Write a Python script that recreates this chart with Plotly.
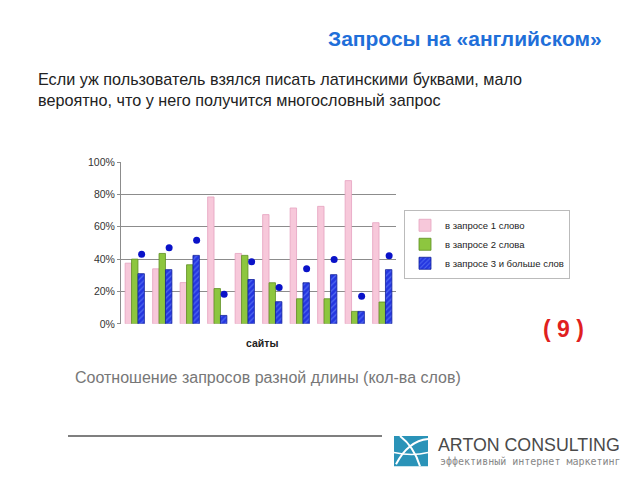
import plotly.graph_objects as go

sites = list(range(10))
one_word = [0.375, 0.34, 0.255, 0.784, 0.435, 0.675, 0.716, 0.726, 0.885, 0.625]
two_words = [0.40, 0.435, 0.365, 0.218, 0.423, 0.254, 0.155, 0.155, 0.077, 0.135]
three_plus = [0.31, 0.335, 0.423, 0.052, 0.274, 0.137, 0.254, 0.304, 0.077, 0.335]
dots = [0.43, 0.47, 0.516, 0.183, 0.383, 0.224, 0.34, 0.397, 0.171, 0.421]
dot_offset = 0.25

legend_names = ["в запросе 1 слово", "в запросе 2 слова", "в запросе 3 и больше слов"]

W, H = 640, 480
def px(x):
    return x / W
def py(y):
    return 1 - y / H

FONT = "Arial, Liberation Sans, sans-serif"

fig = go.Figure()
fig.add_trace(go.Bar(x=sites, y=one_word, name=legend_names[0],
                     marker=dict(color="#F7C8DA", line=dict(color="#E6A3C0", width=0.8))))
fig.add_trace(go.Bar(x=sites, y=two_words, name=legend_names[1],
                     marker=dict(color="#8DC63F", line=dict(color="#5E8E22", width=0.8))))
fig.add_trace(go.Bar(x=sites, y=three_plus, name=legend_names[2],
                     marker=dict(color="#2436E0", line=dict(color="#10209A", width=0.8),
                                 pattern=dict(shape="/", fgcolor="#7C9CFF", bgcolor="#2436E0",
                                              size=4, solidity=0.3))))
fig.add_trace(go.Scatter(x=[s + dot_offset for s in sites], y=dots, mode="markers",
                         showlegend=False,
                         marker=dict(color="#0A12C8", size=7)))

fig.update_layout(
    width=W, height=H,
    margin=dict(l=0, r=0, t=0, b=0),
    paper_bgcolor="white", plot_bgcolor="white",
    barmode="group", bargap=0.3, bargroupgap=0,
    font=dict(family=FONT, color="#333"),
    xaxis=dict(domain=[px(121), px(396)], range=[-0.5, 9.5], showticklabels=False,
               showgrid=False, zeroline=False, showline=False, ticks=""),
    yaxis=dict(domain=[py(326), py(160)], range=[0, 1], dtick=0.2, tickformat=".0%",
               showgrid=True, gridcolor="#8C8C8C", gridwidth=1, zeroline=False,
               showline=True, linecolor="#8C8C8C", linewidth=1,
               ticks="outside", ticklen=3, tickcolor="#8C8C8C",
               tickfont=dict(size=10.5, color="#333", family=FONT)),
    legend=dict(x=px(404), y=py(209), xanchor="left", yanchor="top",
                bordercolor="#BBBBBB", borderwidth=1, bgcolor="white",
                font=dict(size=9.5, color="#222", family=FONT),
                itemwidth=30, tracegroupgap=0),
)

def A(**kw):
    kw.setdefault("xref", "paper")
    kw.setdefault("yref", "paper")
    kw.setdefault("showarrow", False)
    return kw

ann = []
ann.append(A(text="<b>Запросы на «английском»</b>", x=px(604), y=py(33), xanchor="right",
             yanchor="middle", font=dict(size=21, color="#1F6FD9", family=FONT)))
ann.append(A(text="Если уж пользователь взялся писать латинскими буквами, мало<br>вероятно, что у него получится многословный запрос",
             x=px(36), y=py(86), xanchor="left", yanchor="middle", align="left",
             font=dict(size=16.2, color="#222", family=FONT)))
ann.append(A(text="<b>сайты</b>", x=px(262), y=py(346), xanchor="center", yanchor="middle",
             font=dict(size=10.5, color="#222", family=FONT)))
ann.append(A(text="<b>( 9 )</b>", x=px(563), y=py(331), xanchor="center", yanchor="middle",
             font=dict(size=23, color="#E0201E", family=FONT)))
ann.append(A(text="Соотношение запросов разной длины (кол-ва слов)", x=px(73), y=py(381),
             xanchor="left", yanchor="middle",
             font=dict(size=16, color="#777", family=FONT)))
ann.append(A(text="ARTON CONSULTING", x=px(436), y=py(450), xanchor="left", yanchor="middle",
             font=dict(size=17.8, color="#4A4A4A", family=FONT)))
ann.append(A(text="эффективный интернет маркетинг", x=px(438), y=py(467), xanchor="left", yanchor="middle",
             font=dict(size=10, color="#888", family="DejaVu Sans Mono, monospace")))
fig.update_layout(annotations=ann)

shapes = []
shapes.append(dict(type="line", xref="paper", yref="paper", x0=px(68), x1=px(382), y0=py(441), y1=py(441),
                   line=dict(color="#555", width=1.5)))
shapes.append(dict(type="rect", xref="paper", yref="paper", x0=px(394), x1=px(428), y0=py(472), y1=py(441),
                   fillcolor="#2A93B8", line=dict(width=0)))
shapes.append(dict(type="path", xref="paper", yref="paper",
                   path=f"M {px(396)},{py(470)} Q {px(408)},{py(446)} {px(428)},{py(444)}",
                   line=dict(color="white", width=2)))
shapes.append(dict(type="path", xref="paper", yref="paper",
                   path=f"M {px(400)},{py(441)} Q {px(414)},{py(452)} {px(420)},{py(472)}",
                   line=dict(color="white", width=2)))
shapes.append(dict(type="path", xref="paper", yref="paper",
                   path=f"M {px(394)},{py(458)} Q {px(412)},{py(462)} {px(428)},{py(458)}",
                   line=dict(color="white", width=1.5)))
fig.update_layout(shapes=shapes)

fig.write_html("out.html")
